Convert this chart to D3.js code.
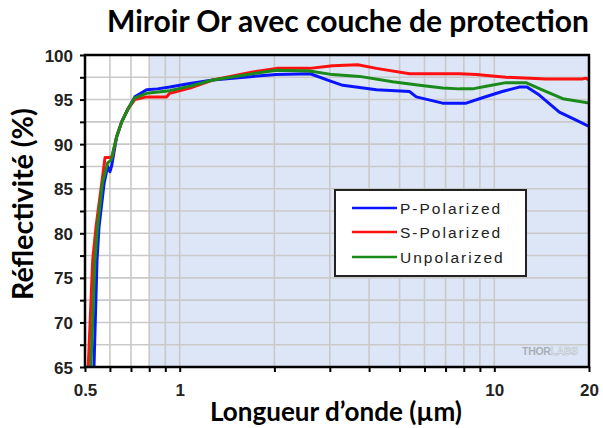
<!DOCTYPE html>
<html>
<head>
<meta charset="utf-8">
<script src="https://cdn.jsdelivr.net/npm/d3@7"></script>
<style>
  html, body { margin: 0; padding: 0; background: #fff; }
  svg { display: block; }
</style>
</head>
<body>
<svg id="chart" width="603" height="428"></svg>
<script>
// Reflectance of a protected gold mirror, wavelength in µm, reflectance in %.
const pWavelength = [0.534, 0.546, 0.554, 0.575, 0.590, 0.600, 0.608, 0.630, 0.654, 0.686, 0.720, 0.785, 0.85, 0.93, 1.077, 1.274, 1.707, 2.03, 2.6, 3.0, 3.3, 4.22, 5.38, 5.65, 6.85, 8.14, 9.17, 10.6, 12.0, 12.7, 13.9, 16.1, 18.2, 20];
const pReflect    = [65, 77, 80.7, 85.6, 87.5, 86.9, 87.6, 90.8, 92.5, 94.0, 95.3, 96.1, 96.2, 96.4, 96.8, 97.2, 97.6, 97.8, 97.9, 97.1, 96.6, 96.1, 95.9, 95.3, 94.6, 94.6, 95.2, 95.9, 96.4, 96.4, 95.5, 93.6, 92.7, 92.0];

const sWavelength = [0.512, 0.529, 0.542, 0.565, 0.579, 0.600, 0.610, 0.630, 0.654, 0.686, 0.720, 0.785, 0.908, 0.93, 1.077, 1.274, 1.707, 2.03, 2.59, 3.06, 3.68, 4.22, 5.38, 7.75, 8.76, 10.9, 14.6, 19.05, 19.5, 20];
const sReflect    = [65, 77, 80.7, 85.6, 88.5, 88.5, 88.6, 90.8, 92.5, 94.0, 95.0, 95.3, 95.3, 95.7, 96.3, 97.2, 98.1, 98.5, 98.5, 98.8, 98.9, 98.5, 97.9, 97.9, 97.8, 97.5, 97.3, 97.3, 97.4, 97.2];

const uWavelength = [0.522, 0.538, 0.548, 0.568, 0.590, 0.605, 0.630, 0.654, 0.686, 0.720, 0.785, 0.93, 1.077, 1.274, 1.707, 2.03, 2.59, 3.06, 3.73, 4.75, 5.79, 6.85, 7.75, 8.53, 9.42, 10.9, 12.6, 14.2, 16.5, 20];
const uReflect    = [65, 77, 80.7, 85.6, 87.9, 88.2, 90.8, 92.5, 94.0, 95.2, 95.7, 96.0, 96.5, 97.2, 97.9, 98.3, 98.2, 97.8, 97.6, 97.0, 96.6, 96.3, 96.2, 96.2, 96.5, 96.9, 96.9, 96.1, 95.1, 94.6];

const seriesNames = ["P-Polarized", "S-Polarized", "Unpolarized"];
const seriesColors = ["#0a14ff", "#ff1010", "#1a8a1a"];

const xTickLabels = [0.5, 1, 10, 20];
const xGridValues = [0.6, 0.7, 0.8, 0.9, 1, 2, 3, 4, 5, 6, 7, 8, 9, 10];
const yTickLabels = [65, 70, 75, 80, 85, 90, 95, 100];

const titleText = "Miroir Or avec couche de protection";
const xTitleText = "Longueur d\u2019onde (\u00b5m)";
const yTitleText = "R\u00e9flectivit\u00e9 (%)";

const svg = d3.select("#chart");
const plot = { left: 85, right: 589, top: 55, bottom: 367 };

const x = d3.scaleLog().domain([0.5, 20]).range([plot.left, plot.right]);
const y = d3.scaleLinear().domain([65, 100]).range([plot.bottom, plot.top]);

// Plot backgrounds: white below 0.8 µm, light blue above.
svg.append("rect")
  .attr("x", plot.left).attr("y", plot.top)
  .attr("width", plot.right - plot.left).attr("height", plot.bottom - plot.top)
  .attr("fill", "#ffffff");
svg.append("rect")
  .attr("x", x(0.8)).attr("y", plot.top)
  .attr("width", plot.right - x(0.8)).attr("height", plot.bottom - plot.top)
  .attr("fill", "#dde6f6");

// Grid
const grid = svg.append("g").attr("stroke", "#c9c9c9").attr("stroke-width", 1.6);
grid.selectAll("line.v").data(xGridValues).join("line")
  .attr("x1", d => x(d)).attr("x2", d => x(d))
  .attr("y1", plot.top).attr("y2", plot.bottom);
grid.selectAll("line.h").data(d3.range(67.5, 100, 2.5)).join("line")
  .attr("x1", plot.left).attr("x2", plot.right)
  .attr("y1", d => y(d)).attr("y2", d => y(d));

// Curves
const line = d3.line().x(d => x(d[0])).y(d => y(d[1]));
const curves = [
  d3.zip(pWavelength, pReflect),
  d3.zip(sWavelength, sReflect),
  d3.zip(uWavelength, uReflect)
];
const clip = svg.append("clipPath").attr("id", "plotclip").append("rect")
  .attr("x", plot.left).attr("y", plot.top)
  .attr("width", plot.right - plot.left).attr("height", plot.bottom - plot.top + 2);
svg.append("g").attr("clip-path", "url(#plotclip)")
  .selectAll("path").data(curves).join("path")
  .attr("d", line)
  .attr("fill", "none")
  .attr("stroke", (d, i) => seriesColors[i])
  .attr("stroke-width", 3)
  .attr("stroke-linejoin", "round");

// Axes
const xAxis = d3.axisBottom(x)
  .tickValues([0.5].concat(xGridValues, [20]))
  .tickSize(5)
  .tickFormat(d => xTickLabels.includes(d) ? String(d) : "");
const gx = svg.append("g").attr("transform", `translate(0,${plot.bottom})`).call(xAxis);
gx.select(".domain").remove();
gx.selectAll(".tick line").attr("stroke", "#000").attr("stroke-width", 2);
gx.selectAll(".tick text")
  .attr("dy", 0).attr("y", 29)
  .attr("font-family", "Liberation Sans, Arial, sans-serif")
  .attr("font-weight", "bold").attr("font-size", 17).attr("fill", "#222");

const yAxis = d3.axisLeft(y)
  .tickValues(d3.range(65, 100.1, 2.5))
  .tickSize(5)
  .tickFormat(d => yTickLabels.includes(d) ? String(d) : "");
const gy = svg.append("g").attr("transform", `translate(${plot.left},0)`).call(yAxis);
gy.select(".domain").remove();
gy.selectAll(".tick line").attr("stroke", "#000").attr("stroke-width", 2);
gy.selectAll(".tick text")
  .attr("x", -12).attr("dy", "0.36em")
  .attr("font-family", "Liberation Sans, Arial, sans-serif")
  .attr("font-weight", "bold").attr("font-size", 17).attr("fill", "#222");

// Frame
svg.append("rect")
  .attr("x", plot.left).attr("y", plot.top)
  .attr("width", plot.right - plot.left).attr("height", plot.bottom - plot.top)
  .attr("fill", "none").attr("stroke", "#000").attr("stroke-width", 2.5);

// Watermark
const wm = svg.append("text")
  .attr("x", 578).attr("y", 355).attr("text-anchor", "end")
  .attr("font-family", "Liberation Sans, Arial, sans-serif")
  .attr("font-weight", "bold").attr("font-size", 10.5).attr("letter-spacing", -0.3);
wm.append("tspan").text("THOR").attr("fill", "#a9aeb6");
wm.append("tspan").text("LABS").attr("fill", "#e6ebf4").attr("stroke", "#b4b9c2").attr("stroke-width", 0.5);

// Legend
const legend = svg.append("g");
legend.append("rect")
  .attr("x", 335).attr("y", 190).attr("width", 191).attr("height", 86)
  .attr("fill", "#fff").attr("stroke", "#222").attr("stroke-width", 2);
const rowsY = [208, 232, 257];
seriesNames.forEach((name, i) => {
  legend.append("line")
    .attr("x1", 352).attr("x2", 397).attr("y1", rowsY[i]).attr("y2", rowsY[i])
    .attr("stroke", seriesColors[i]).attr("stroke-width", 2.5);
  legend.append("text")
    .attr("x", 400).attr("y", rowsY[i]).attr("dy", "0.36em")
    .attr("font-family", "Liberation Sans, Arial, sans-serif")
    .attr("font-size", 15.5).attr("letter-spacing", 2).attr("fill", "#222")
    .text(name);
});

// Titles, sized to their span
function fitText(sel, width) {
  const w = sel.node().getComputedTextLength();
  const fs = parseFloat(sel.attr("font-size"));
  sel.attr("font-size", fs * width / w);
}
const title = svg.append("text")
  .attr("x", 348).attr("y", 32).attr("text-anchor", "middle")
  .attr("font-family", "Lato, 'Open Sans', sans-serif").attr("font-weight", "bold")
  .attr("font-size", 26).attr("fill", "#000").text(titleText);
fitText(title, 482);

const xTitle = svg.append("text")
  .attr("x", 336).attr("y", 421).attr("text-anchor", "middle")
  .attr("font-family", "Lato, 'Open Sans', sans-serif").attr("font-weight", "bold")
  .attr("font-size", 22).attr("fill", "#000").text(xTitleText);
fitText(xTitle, 252);

const yTitle = svg.append("text")
  .attr("transform", "translate(33,204) rotate(-90)").attr("text-anchor", "middle")
  .attr("font-family", "Lato, 'Open Sans', sans-serif").attr("font-weight", "bold")
  .attr("font-size", 22).attr("fill", "#000").text(yTitleText);
fitText(yTitle, 192);
</script>
</body>
</html>
